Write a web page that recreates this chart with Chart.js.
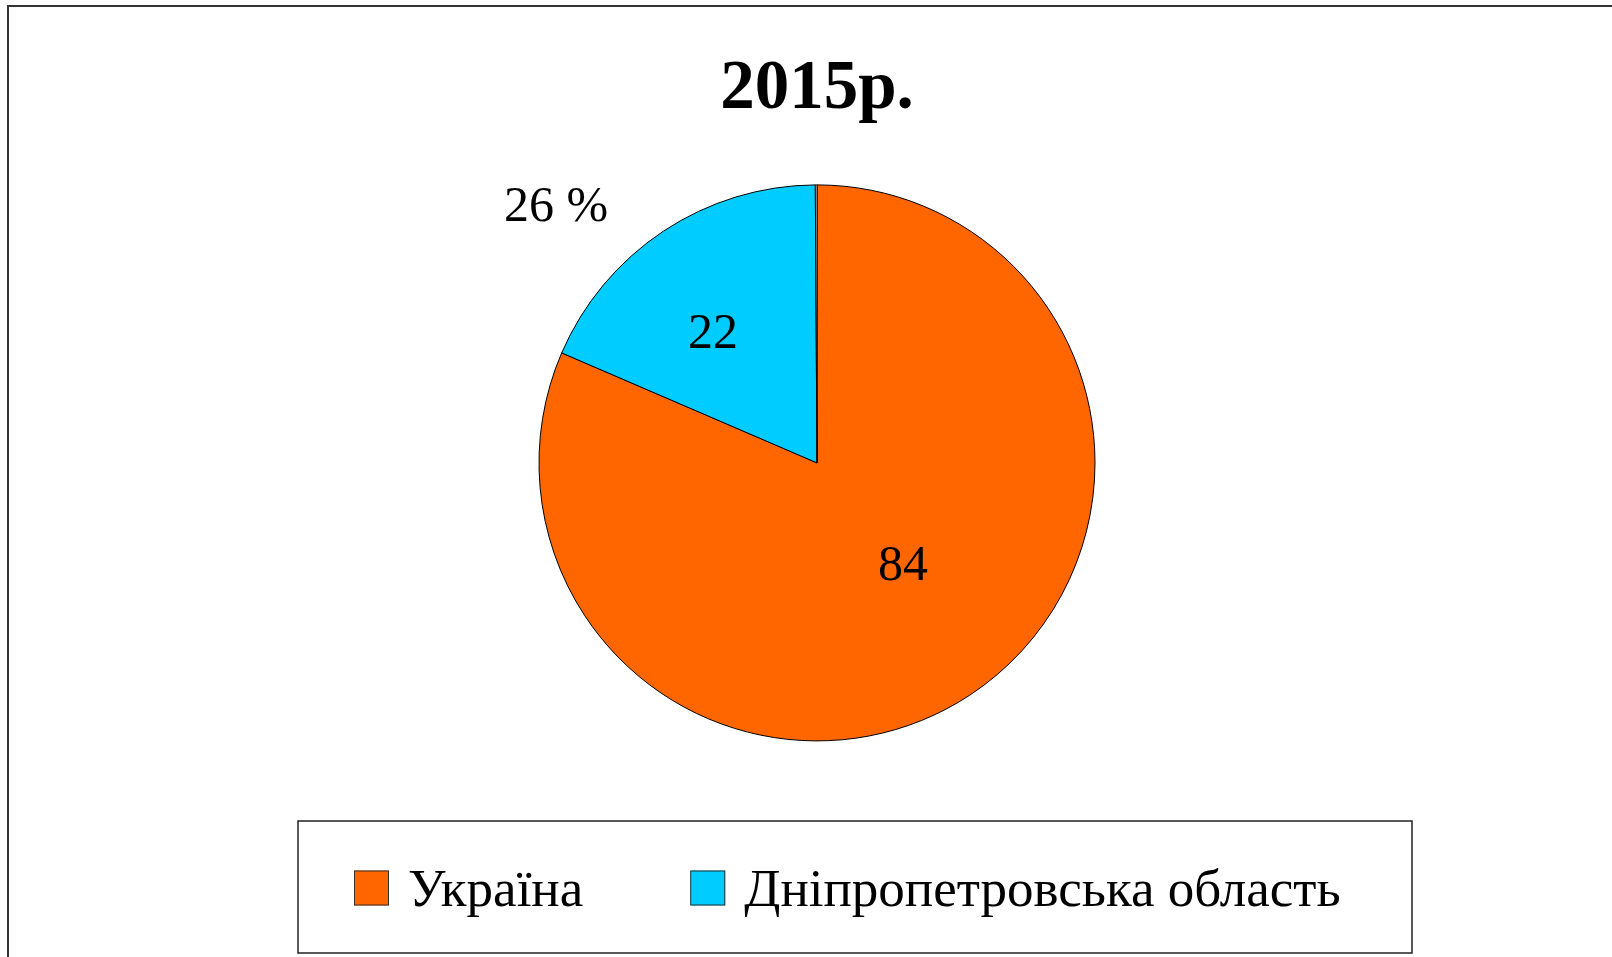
<!DOCTYPE html>
<html>
<head>
<meta charset="utf-8">
<script src="https://cdn.jsdelivr.net/npm/chart.js@4/dist/chart.umd.min.js"></script>
<style>
  html, body { margin: 0; padding: 0; background: #fff; }
  #wrap { position: absolute; left: 0; top: 0; width: 1612px; height: 957px; }
</style>
</head>
<body>
<div id="wrap"><canvas id="pieChart"></canvas></div>
<script>
// data
let categories = ['Україна', 'Дніпропетровська область', '']
let sliceShares = [84, 19, 0.1]          // slice sizes as drawn
let valueLabels = ['84', '22', '26 %']   // texts written on the slices
let sliceColors = ['#FF6600', '#00CCFF', '#FFFFFF']
let titleText = '2015р.'

const serif = "'Liberation Serif', 'Times New Roman', serif"

// outer frame of the picture (top and left edge)
const framePlugin = {
    id: 'frame',
    beforeDraw(chart) {
        const ctx = chart.ctx
        ctx.save()
        ctx.fillStyle = '#fff'
        ctx.fillRect(0, 0, chart.width, chart.height)
        ctx.strokeStyle = '#333'
        ctx.lineWidth = 2
        ctx.beginPath()
        ctx.moveTo(8, chart.height)
        ctx.lineTo(8, 6)
        ctx.lineTo(chart.width, 6)
        ctx.stroke()
        ctx.restore()
    }
}

// numbers on / next to the slices
const valueLabelPlugin = {
    id: 'valueLabels',
    afterDatasetsDraw(chart, args, opts) {
        const ctx = chart.ctx
        const arcs = chart.getDatasetMeta(0).data
        const cx = arcs[0].x, cy = arcs[0].y, r = arcs[0].outerRadius
        ctx.save()
        ctx.font = '50px ' + serif
        ctx.fillStyle = '#000'
        ctx.textAlign = 'center'
        ctx.textBaseline = 'middle'
        valueLabels.forEach(function (txt, i) {
            const off = opts.offsets[i]
            ctx.fillText(txt, cx + off[0] * r, cy + off[1] * r)
        })
        ctx.restore()
    }
}

// framed legend under the pie
const boxLegendPlugin = {
    id: 'boxLegend',
    afterDraw(chart, args, opts) {
        const ctx = chart.ctx
        const ds = chart.data.datasets[0]
        ctx.save()
        ctx.strokeStyle = '#222'
        ctx.lineWidth = 1.5
        ctx.strokeRect(opts.left, opts.top, opts.width, opts.height)
        ctx.font = opts.fontSize + 'px ' + serif
        ctx.textBaseline = 'middle'
        ctx.textAlign = 'left'
        let x = opts.left + opts.firstX
        const midY = opts.top + opts.itemY
        for (let i = 0; i < opts.count; i++) {
            ctx.fillStyle = ds.backgroundColor[i]
            ctx.fillRect(x, midY - opts.box / 2, opts.box, opts.box)
            ctx.strokeStyle = '#333'
            ctx.lineWidth = 1
            ctx.strokeRect(x + 0.5, midY - opts.box / 2 + 0.5, opts.box - 1, opts.box - 1)
            ctx.fillStyle = '#000'
            const tx = x + opts.box + opts.textGap
            ctx.fillText(chart.data.labels[i], tx, midY + opts.textDrop)
            x = tx + ctx.measureText(chart.data.labels[i]).width + opts.itemGap
        }
        ctx.restore()
    }
}

function createPie(elementID) {
    const el = document.getElementById(elementID)
    el.width = 1612
    el.height = 957
    return new Chart(el, {
        type: 'pie',
        data: {
            labels: categories,
            datasets: [{
                data: sliceShares,
                backgroundColor: sliceColors,
                borderColor: '#000',
                borderWidth: 1,
                radius: 278
            }]
        },
        options: {
            responsive: false,
            animation: false,
            layout: { padding: { top: 0, left: 22, right: 0, bottom: 197 } },
            plugins: {
                legend: { display: false },
                tooltip: { enabled: false },
                title: {
                    display: true,
                    text: titleText,
                    color: '#000',
                    font: { family: serif, size: 69, weight: 'bold', lineHeight: 1.2 },
                    padding: { top: 49, bottom: 34 }
                },
                valueLabels: {
                    offsets: [[0.309, 0.374], [-0.374, -0.46], [-0.939, -0.917]]
                },
                boxLegend: {
                    left: 298, top: 821, width: 1114, height: 132,
                    count: 2, box: 35, fontSize: 53,
                    firstX: 56, itemY: 67, textDrop: 4, textGap: 19, itemGap: 107
                }
            }
        },
        plugins: [framePlugin, valueLabelPlugin, boxLegendPlugin]
    })
}

createPie('pieChart')
</script>
</body>
</html>
